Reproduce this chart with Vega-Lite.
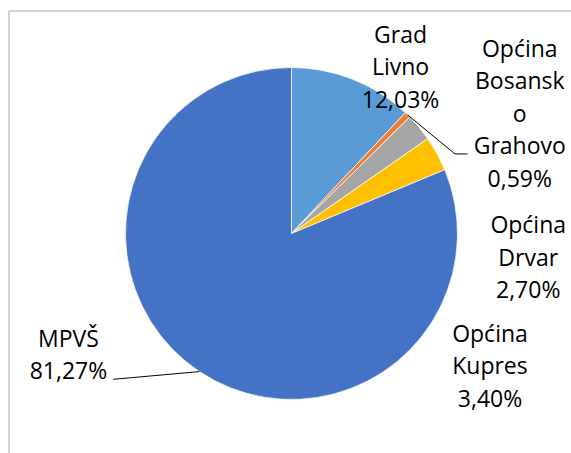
{
  "$schema": "https://vega.github.io/schema/vega-lite/v6.json",
  "width": 566,
  "height": 446,
  "autosize": {"type": "none"},
  "padding": {"left": 8.5, "top": 10.5, "right": -3.5, "bottom": -3.5},
  "background": "white",
  "config": {"view": {"stroke": "#A6A6A6", "strokeWidth": 1}},
  "data": {
    "values": [
      {"n": 1, "cat": "Grad Livno", "share": 12.03, "label": "Grad\nLivno\n12,03%"},
      {"n": 2, "cat": "Općina Bosansko Grahovo", "share": 0.59, "label": "Općina\nBosansk\no\nGrahovo\n0,59%"},
      {"n": 3, "cat": "Općina Drvar", "share": 2.70, "label": "Općina\nDrvar\n2,70%"},
      {"n": 4, "cat": "Općina Kupres", "share": 3.40, "label": "Općina\nKupres\n3,40%"},
      {"n": 5, "cat": "MPVŠ", "share": 81.27, "label": "MPVŠ\n81,27%"}
    ]
  },
  "transform": [
    {"window": [{"op": "sum", "field": "share", "as": "cum"}], "sort": [{"field": "n"}], "frame": [null, 0]},
    {"joinaggregate": [{"op": "sum", "field": "share", "as": "total"}]},
    {"calculate": "2*PI*(datum.cum - datum.share/2)/datum.total", "as": "mid"},
    {"calculate": "166*sin(datum.mid)", "as": "px"},
    {"calculate": "166*cos(datum.mid)", "as": "py"}
  ],
  "layer": [
    {
      "mark": {"type": "arc", "outerRadius": 166, "stroke": "white", "strokeWidth": 0.75},
      "encoding": {
        "theta": {"field": "share", "type": "quantitative", "stack": true},
        "order": {"field": "n", "type": "quantitative"},
        "color": {
          "field": "cat",
          "type": "nominal",
          "scale": {
            "domain": ["Grad Livno", "Općina Bosansko Grahovo", "Općina Drvar", "Općina Kupres", "MPVŠ"],
            "range": ["#5B9BD5", "#ED7D31", "#A5A5A5", "#FFC000", "#4472C4"]
          },
          "legend": null
        }
      }
    },
    {
      "encoding": {
        "x": {"field": "px", "type": "quantitative", "scale": {"domain": [-283, 283], "nice": false, "zero": false}, "axis": null},
        "y": {"field": "py", "type": "quantitative", "scale": {"domain": [-223, 223], "nice": false, "zero": false}, "axis": null}
      },
      "layer": [
        {
          "transform": [{"filter": "datum.n == 1"}],
          "mark": {"type": "text", "font": "Open Sans", "fontSize": 23, "color": "#000000", "align": "center", "baseline": "alphabetic", "lineBreak": "\n", "lineHeight": 32.5, "dx": 47.8, "dy": -36.5},
          "encoding": {"text": {"field": "label"}}
        },
        {
          "transform": [{"filter": "datum.n == 2"}],
          "mark": {"type": "text", "font": "Open Sans", "fontSize": 23, "color": "#000000", "align": "center", "baseline": "alphabetic", "lineBreak": "\n", "lineHeight": 32.5, "dx": 112.2, "dy": -58.2},
          "encoding": {"text": {"field": "label"}}
        },
        {
          "transform": [{"filter": "datum.n == 3"}],
          "mark": {"type": "text", "font": "Open Sans", "fontSize": 23, "color": "#000000", "align": "center", "baseline": "alphabetic", "lineBreak": "\n", "lineHeight": 32.5, "dx": 109.0, "dy": 105.6},
          "encoding": {"text": {"field": "label"}}
        },
        {
          "transform": [{"filter": "datum.n == 4"}],
          "mark": {"type": "text", "font": "Open Sans", "fontSize": 23, "color": "#000000", "align": "center", "baseline": "alphabetic", "lineBreak": "\n", "lineHeight": 32.5, "dx": 52.9, "dy": 188.0},
          "encoding": {"text": {"field": "label"}}
        },
        {
          "transform": [{"filter": "datum.n == 5"}],
          "mark": {"type": "text", "font": "Open Sans", "fontSize": 23, "color": "#000000", "align": "center", "baseline": "alphabetic", "lineBreak": "\n", "lineHeight": 32.5, "dx": -130.9, "dy": -24.9},
          "encoding": {"text": {"field": "label"}}
        },
        {
          "transform": [{"filter": "datum.n == 2"}],
          "mark": {"type": "rule", "color": "#000000", "strokeWidth": 1, "x2Offset": 47.4, "y2Offset": 39.1},
          "encoding": {"x2": {"field": "px"}, "y2": {"field": "py"}}
        },
        {
          "transform": [{"filter": "datum.n == 2"}],
          "mark": {"type": "rule", "color": "#000000", "strokeWidth": 1, "xOffset": 47.4, "yOffset": 39.1, "x2Offset": 60, "y2Offset": 39.1},
          "encoding": {"x2": {"field": "px"}, "y2": {"field": "py"}}
        },
        {
          "transform": [{"filter": "datum.n == 5"}],
          "mark": {"type": "rule", "color": "#000000", "strokeWidth": 1, "x2Offset": -86.1, "y2Offset": 7.7},
          "encoding": {"x2": {"field": "px"}, "y2": {"field": "py"}}
        }
      ]
    }
  ]
}
